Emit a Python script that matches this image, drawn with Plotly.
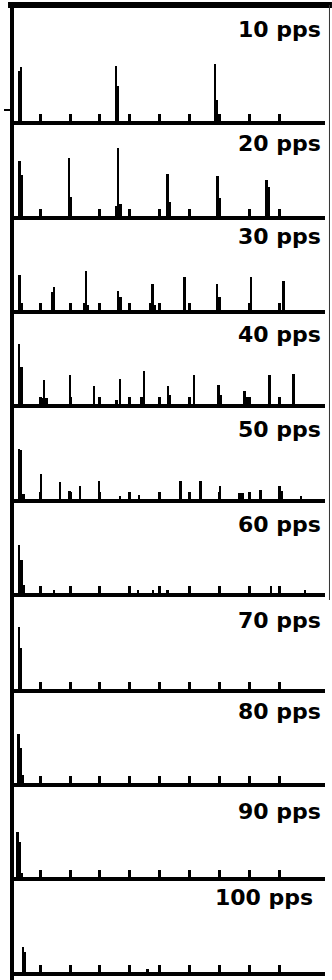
import plotly.graph_objects as go

# Stimulus rates and panel titles
rates = [10, 20, 30, 40, 50, 60, 70, 80, 90, 100]
labels = ["10 pps", "20 pps", "30 pps", "40 pps", "50 pps",
          "60 pps", "70 pps", "80 pps", "90 pps", "100 pps"]

# Post-stimulus time histograms: bin centre (ms) and spike count per bin
t_10 = [9, 11, 106, 108, 205.5, 207.5]
n_10 = [50, 54, 55, 35, 57, 21]

t_20 = [9.3, 11.5, 58.8, 61, 106, 108.3, 110.5, 157.6, 159.8, 208.3, 210.6, 257.3, 259.5]
n_20 = [55, 41, 58, 19, 10, 68, 12, 42, 14, 40, 18, 36, 29]

t_30 = [9.5, 11.8, 41.8, 44, 74, 76, 78, 108.3, 110.5, 140.6, 142.6, 144.6,
        175, 207.6, 210, 241.6, 274]
n_30 = [35, 7, 18, 23, 7, 39, 5, 19, 13, 7, 26, 5, 33, 26, 13, 33, 29]

t_40 = [9, 11.2, 31.5, 34, 36.2, 60, 84, 106.5, 110, 131.5, 134.3, 158.3, 160.5,
        184.3, 209, 211.2, 235, 237.3, 260, 284.3]
n_40 = [60, 37, 6, 24, 6, 29, 18, 4, 25, 7, 33, 18, 9, 29, 19, 9, 13, 7, 29, 30]

t_50 = [9, 11, 13.2, 31, 50, 59.5, 70, 89.3, 110, 129.3, 170.7, 180.5, 190.7,
        210.7, 230, 233.4, 251, 270, 272.2, 291.8]
n_50 = [50, 49, 5, 25, 17, 8, 13, 18, 3, 4, 18, 6, 18, 13, 6, 6, 9, 13, 8, 3]

t_60 = [8.8, 11.2, 13.2, 44, 128.3, 143.4, 157.8, 261.7, 295.7]
n_60 = [48, 33, 8, 3, 3, 3, 3, 7, 3]

t_70 = [8.8, 11]
n_70 = [62, 41]

t_80 = [8.3, 10.8, 12.8]
n_80 = [49, 35, 8]

t_90 = [7.5, 9.8, 11.8]
n_90 = [45, 35, 4]

t_100 = [12.8, 15, 137.5]
n_100 = [25, 20, 3]

bin_times = [t_10, t_20, t_30, t_40, t_50, t_60, t_70, t_80, t_90, t_100]
bin_counts = [n_10, n_20, n_30, n_40, n_50, n_60, n_70, n_80, n_90, n_100]

# Time axis ticks (ms)
tick_ms = [30, 60, 90, 120, 150, 180, 210, 240, 270]
time_range = [1.8, 315.9]

# ---- page geometry (pixels) ----
W, H = 332, 980
ML, MR, MT, MB = 10, 7, 5, 8
plot_w = W - ML - MR
plot_h = H - MT - MB
baseline_px = [121, 216, 310, 404, 499, 593, 689, 783, 877, 972]
top_px = [MT] + baseline_px[:-1]
label_offset = [24.5, 22.3, 20.7, 24.2, 25, 25, 27, 22.7, 28, 20.5]
label_right = [323] * 9 + [315]


def py(px):
    """Pixel row -> paper y."""
    return (H - MB - px) / plot_h


def pxx(px):
    """Pixel column -> paper x."""
    return (px - ML) / plot_w


fig = go.Figure()
layout = dict(
    width=W, height=H,
    margin=dict(l=ML, r=MR, t=MT, b=MB, pad=0),
    paper_bgcolor="white", plot_bgcolor="white",
    showlegend=False, bargap=0,
)
annotations = []

for k in range(10):
    sfx = "" if k == 0 else str(k + 1)
    fig.add_trace(go.Bar(
        x=bin_times[k], y=bin_counts[k], width=2.6,
        marker=dict(color="black", line=dict(width=0)),
        xaxis="x" + sfx, yaxis="y" + sfx, hoverinfo="skip",
    ))
    layout["xaxis" + sfx] = dict(
        domain=[0, 1], range=time_range, anchor="y" + sfx,
        showline=True, linewidth=3.5, linecolor="black",
        ticks="inside", tickvals=tick_ms, ticklen=7, tickwidth=2.5, tickcolor="black",
        showticklabels=False, showgrid=False, zeroline=False, fixedrange=True,
    )
    panel_h = baseline_px[k] - top_px[k]
    yax = dict(
        domain=[py(baseline_px[k]), py(top_px[k])], range=[0, panel_h],
        anchor="x" + sfx, showline=False, showgrid=False, zeroline=False,
        showticklabels=False, ticks="", fixedrange=True,
    )
    if k == 0:
        yax.update(ticks="outside", tickvals=[11], ticklen=7, tickwidth=2,
                   tickcolor="black")
    layout["yaxis" + sfx] = yax
    annotations.append(dict(
        text="<b>" + labels[k] + "</b>", xref="paper", yref="paper",
        x=pxx(label_right[k]), y=py(top_px[k] + label_offset[k]),
        xanchor="right", yanchor="middle", showarrow=False,
        font=dict(family="DejaVu Sans", size=22, color="black"),
    ))

layout["annotations"] = annotations
layout["shapes"] = [
    # top frame
    dict(type="line", xref="paper", yref="paper",
         x0=pxx(6), x1=pxx(332), y0=py(5), y1=py(5),
         line=dict(color="black", width=6)),
    # left frame
    dict(type="line", xref="paper", yref="paper",
         x0=pxx(10), x1=pxx(10), y0=py(2), y1=py(980),
         line=dict(color="black", width=4)),
    # thin right frame
    dict(type="line", xref="paper", yref="paper",
         x0=pxx(329.5), x1=pxx(329.5), y0=py(5), y1=py(600),
         line=dict(color="#333333", width=1)),
]
fig.update_layout(**layout)
fig.write_html("out.html")
